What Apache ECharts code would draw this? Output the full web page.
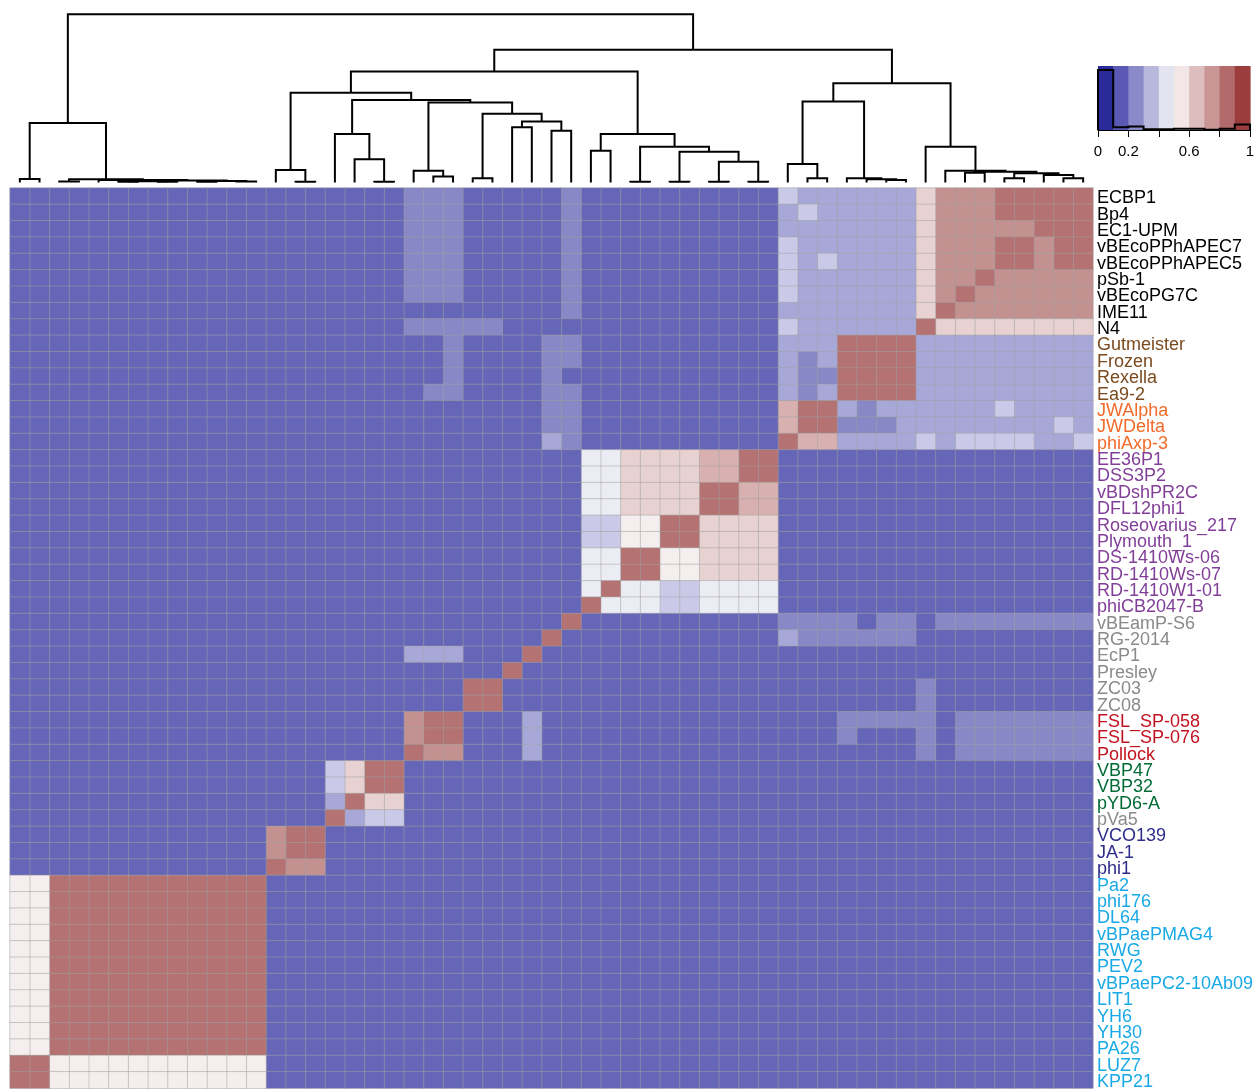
<!DOCTYPE html>
<html>
<head>
<meta charset="utf-8">
<script src="https://cdn.jsdelivr.net/npm/echarts@6/dist/echarts.min.js"></script>
<style>html,body{margin:0;padding:0;background:#fff;}#c{width:1259px;height:1091px;}</style>
</head>
<body>
<div id="c"></div>
<script>
// ---------------- DATA ----------------
// Row labels (top to bottom). Columns show the same phages in reverse order.
var labels = ["ECBP1","Bp4","EC1-UPM","vBEcoPPhAPEC7","vBEcoPPhAPEC5","pSb-1","vBEcoPG7C","IME11","N4",
  "Gutmeister","Frozen","Rexella","Ea9-2","JWAlpha","JWDelta","phiAxp-3",
  "EE36P1","DSS3P2","vBDshPR2C","DFL12phi1","Roseovarius_217","Plymouth_1","DS-1410Ws-06","RD-1410Ws-07","RD-1410W1-01","phiCB2047-B",
  "vBEamP-S6","RG-2014","EcP1","Presley","ZC03","ZC08",
  "FSL_SP-058","FSL_SP-076","Pollock","VBP47","VBP32","pYD6-A","pVa5","VCO139","JA-1","phi1",
  "Pa2","phi176","DL64","vBPaePMAG4","RWG","PEV2","vBPaePC2-10Ab09","LIT1","YH6","YH30","PA26","LUZ7","KPP21"];

// label group of each row (decides label colour)
var rowGroup = [0,0,0,0,0,0,0,0,0, 1,1,1,1, 2,2,2, 3,3,3,3,3,3,3,3,3,3, 4,4,4,4,4,4, 5,5,5, 6,6,6, 4, 7,7,7,
  8,8,8,8,8,8,8,8,8,8,8,8,8];

// Similarity, in tenths (digit d = value in [d/10, (d+1)/10)); row i, column j both in label order
var simRows = [
 "9999988862 2222230000 0000001000 0011100000 0000000000 00000",
 "9999988862 2222320000 0000001000 0011100000 0000000000 00000",
 "9998888862 2222220000 0000001000 0011100000 0000000000 00000",
 "9989988862 2222230000 0000001000 0011100000 0000000000 00000",
 "9989988862 2223230000 0000001000 0011100000 0000000000 00000",
 "8888898862 2222230000 0000001000 0011100000 0000000000 00000",
 "8888889862 2222230000 0000001000 0011100000 0000000000 00000",
 "8888888962 2222220000 0000001000 0000000000 0000000000 00000",
 "6666666692 2222230000 0000000000 1111100000 0000000000 00000",
 "2222222229 9992220000 0000001100 0010000000 0000000000 00000",
 "2222222229 9992120000 0000001100 0010000000 0000000000 00000",
 "2222222229 9991120000 0000000100 0010000000 0000000000 00000",
 "2222222229 9992120000 0000001100 0011000000 0000000000 00000",
 "2222322222 2129970000 0000001100 0000000000 0000000000 00000",
 "2322222222 1119970000 0000001100 0000000000 0000000000 00000",
 "3223333232 2227790000 0000001200 0000000000 0000000000 00000",
 "0000000000 0000009977 6666440000 0000000000 0000000000 00000",
 "0000000000 0000009977 6666440000 0000000000 0000000000 00000",
 "0000000000 0000007799 6666440000 0000000000 0000000000 00000",
 "0000000000 0000007799 6666440000 0000000000 0000000000 00000",
 "0000000000 0000006666 9955330000 0000000000 0000000000 00000",
 "0000000000 0000006666 9955330000 0000000000 0000000000 00000",
 "0000000000 0000006666 5599440000 0000000000 0000000000 00000",
 "0000000000 0000006666 5599440000 0000000000 0000000000 00000",
 "0000000000 0000004444 3344940000 0000000000 0000000000 00000",
 "0000000000 0000004444 3344490000 0000000000 0000000000 00000",
 "1111111101 1011110000 0000009000 0000000000 0000000000 00000",
 "0000000001 1111120000 0000000900 0000000000 0000000000 00000",
 "0000000000 0000000000 0000000090 0022200000 0000000000 00000",
 "0000000000 0000000000 0000000009 0000000000 0000000000 00000",
 "0000000010 0000000000 0000000000 9900000000 0000000000 00000",
 "0000000010 0000000000 0000000000 9900000000 0000000000 00000",
 "1111111011 1110000000 0000000020 0099800000 0000000000 00000",
 "1111111010 0010000000 0000000020 0099800000 0000000000 00000",
 "1111111010 0000000000 0000000020 0088900000 0000000000 00000",
 "0000000000 0000000000 0000000000 0000099630 0000000000 00000",
 "0000000000 0000000000 0000000000 0000099630 0000000000 00000",
 "0000000000 0000000000 0000000000 0000066920 0000000000 00000",
 "0000000000 0000000000 0000000000 0000033290 0000000000 00000",
 "0000000000 0000000000 0000000000 0000000009 9800000000 00000",
 "0000000000 0000000000 0000000000 0000000009 9800000000 00000",
 "0000000000 0000000000 0000000000 0000000008 8900000000 00000",
 "0000000000 0000000000 0000000000 0000000000 0099999999 99955",
 "0000000000 0000000000 0000000000 0000000000 0099999999 99955",
 "0000000000 0000000000 0000000000 0000000000 0099999999 99955",
 "0000000000 0000000000 0000000000 0000000000 0099999999 99955",
 "0000000000 0000000000 0000000000 0000000000 0099999999 99955",
 "0000000000 0000000000 0000000000 0000000000 0099999999 99955",
 "0000000000 0000000000 0000000000 0000000000 0099999999 99955",
 "0000000000 0000000000 0000000000 0000000000 0099999999 99955",
 "0000000000 0000000000 0000000000 0000000000 0099999999 99955",
 "0000000000 0000000000 0000000000 0000000000 0099999999 99955",
 "0000000000 0000000000 0000000000 0000000000 0099999999 99955",
 "0000000000 0000000000 0000000000 0000000000 0055555555 55599",
 "0000000000 0000000000 0000000000 0000000000 0055555555 55599"
];

// Column dendrogram, hclust style: negative = leaf at column position, positive = earlier merge
var dendroMerges = [
 [-1,-2,0.021],[-3,-4,0.006],[-6,-7,0.004],[-8,-9,0.005],[3,4,0.008],[-10,-11,0.004],[-12,-13,0.006],
 [6,7,0.009],[5,8,0.012],[-5,9,0.015],[2,10,0.020],[1,11,0.354],
 [-15,-16,0.005],[-14,13,0.074],[-19,-20,0.005],[-18,15,0.138],[-17,16,0.289],
 [-22,-23,0.035],[-21,18,0.070],[-24,-25,0.025],[-26,-27,0.329],[-28,-29,0.308],[21,22,0.362],
 [20,23,0.408],[19,24,0.475],[17,25,0.491],[14,26,0.534],
 [-30,-31,0.189],[-32,-33,0.005],[-34,-35,0.005],[-36,-37,0.005],[-38,-39,0.005],[31,32,0.124],
 [30,33,0.183],[29,34,0.213],[28,35,0.289],[27,36,0.660],
 [-41,-42,0.025],[-40,38,0.110],[-45,-46,0.015],[-44,40,0.020],[-43,41,0.025],[39,42,0.481],
 [-54,-55,0.025],[-53,44,0.045],[-51,-52,0.025],[46,45,0.055],[-49,-50,0.058],[48,47,0.064],
 [-48,49,0.070],[-47,50,0.213],[43,51,0.590],[37,52,0.789],[12,53,1.000]
];

var keyTicks = [0, 0.2, 0.4, 0.6, 0.8, 1];
var keyTickLabels = ["0", "0.2", "", "0.6", "", "1"];

// ---------------- STYLE ----------------
var keyColors = ['#2a2a9a','#5a5ab5','#8a8acb','#b8b8dc','#e4e4f0','#f3e6e6','#ddbdbd','#c99595','#b36a6a','#9c3d3d'];
var cellColors = ['#6666b8','#8888c6','#a8a8d8','#cacae8','#ececf5','#f5eeee','#e8d1d1','#d8b0b0','#c49191','#b47272'];
var groupColors = ['#000000','#7b4a1e','#f26b2a','#823f98','#8a8a8a','#c1121f','#006b35','#2e2e8a','#18a9e6'];
var FONT = 'Liberation Sans, Arial, sans-serif';

// ---------------- BUILD ----------------
var N = labels.length;
var colNames = labels.slice().reverse();
var matrix = simRows.map(function(s){ return s.replace(/ /g,'').split('').map(function(d){ return (+d + 0.5) / 10; }); });
var heatData = [];
var counts = [0,0,0,0,0,0,0,0,0,0];
for (var i = 0; i < N; i++) {
  for (var j = 0; j < N; j++) {
    var v = matrix[i][j];
    heatData.push([N - 1 - j, i, v]);
    counts[Math.min(9, Math.floor(v * 10))]++;
  }
}
var maxCount = Math.max.apply(null, counts);
var histMax = maxCount / 0.9375;

// dendrogram segments
var nodePos = [], nodeH = [], segs = [];
dendroMerges.forEach(function(m){
  function pos(id){ return id < 0 ? (-id - 0.5) : nodePos[id - 1]; }
  function ht(id){ return id < 0 ? 0 : nodeH[id - 1]; }
  var x1 = pos(m[0]), x2 = pos(m[1]);
  segs.push([x1, x2, ht(m[0]), ht(m[1]), m[2]]);
  nodePos.push((x1 + x2) / 2);
  nodeH.push(m[2]);
});

var pieces = cellColors.map(function(c, b){ return {gte: b/10, lt: (b+1)/10, color: c}; });
pieces[9].lte = 1; delete pieces[9].lt;

var rich = {};
groupColors.forEach(function(c, g){ rich['g' + g] = {color: c, fontSize: 18, fontFamily: FONT, padding: [4, 0, 0, 0]}; });

var keyBins = keyColors.map(function(c, b){ return [b/10, (b+1)/10, b]; });

var chart = echarts.init(document.getElementById('c'), null, {renderer: 'canvas'});
chart.setOption({
  animation: false,
  backgroundColor: '#ffffff',
  grid: [
    {left: 10, top: 188, width: 1083, height: 903},
    {left: 10, top: 14.3, width: 1083, height: 168.2},
    {left: 1098, top: 66, width: 152, height: 64}
  ],
  xAxis: [
    {type: 'category', gridIndex: 0, data: colNames, axisLine: {show: false}, axisTick: {show: false}, axisLabel: {show: false}, splitLine: {show: false}},
    {type: 'value', gridIndex: 1, min: 0, max: N, show: false},
    {type: 'value', gridIndex: 2, min: 0, max: 1, interval: 0.2,
      axisLine: {show: true, lineStyle: {color: '#000', width: 1}},
      axisTick: {show: true, length: 7, lineStyle: {color: '#000', width: 1}},
      splitLine: {show: false},
      axisLabel: {color: '#000', fontSize: 15, fontFamily: FONT, margin: 14,
        formatter: function(v){ var k = keyTicks.findIndex(function(t){ return Math.abs(t - v) < 1e-6; }); return k >= 0 ? keyTickLabels[k] : ''; }}}
  ],
  yAxis: [
    {type: 'category', gridIndex: 0, data: labels, inverse: true, position: 'right',
      axisLine: {show: false}, axisTick: {show: false}, splitLine: {show: false},
      axisLabel: {interval: 0, margin: 4, fontSize: 18, fontFamily: FONT,
        formatter: function(v, idx){ return '{g' + rowGroup[idx] + '|' + v + '}'; }, rich: rich}},
    {type: 'value', gridIndex: 1, min: 0, max: 1, show: false},
    {type: 'value', gridIndex: 2, min: 0, max: histMax, show: false}
  ],
  visualMap: {type: 'piecewise', show: false, dimension: 2, seriesIndex: 0, pieces: pieces},
  series: [
    {type: 'heatmap', xAxisIndex: 0, yAxisIndex: 0, data: heatData, progressive: 0,
      itemStyle: {borderColor: '#a0a0a0', borderWidth: 0.5}, emphasis: {disabled: true}},
    {type: 'custom', xAxisIndex: 1, yAxisIndex: 1, data: segs, clip: false,
      encode: {x: [0, 1], y: [2, 3, 4]},
      renderItem: function(params, api){
        var p1 = api.coord([api.value(0), api.value(2)]);
        var p2 = api.coord([api.value(0), api.value(4)]);
        var p3 = api.coord([api.value(1), api.value(4)]);
        var p4 = api.coord([api.value(1), api.value(3)]);
        return {type: 'polyline', shape: {points: [p1, p2, p3, p4]}, style: {stroke: '#000', lineWidth: 2, fill: 'none'}};
      }},
    {type: 'custom', xAxisIndex: 2, yAxisIndex: 2, data: keyBins,
      encode: {x: [0, 1]},
      renderItem: function(params, api){
        var a = api.coord([api.value(0), histMax]);
        var b = api.coord([api.value(1), 0]);
        return {type: 'rect', shape: {x: a[0], y: a[1], width: b[0] - a[0] + 0.6, height: b[1] - a[1]},
          style: {fill: keyColors[api.value(2)]}};
      }},
    {type: 'custom', xAxisIndex: 2, yAxisIndex: 2, data: [[0, 0]], z: 5,
      renderItem: function(params, api){
        var pts = [api.coord([0, 0])];
        for (var b = 0; b < 10; b++) {
          pts.push(api.coord([b/10, counts[b]]));
          pts.push(api.coord([(b+1)/10, counts[b]]));
        }
        pts.push(api.coord([1, 0]));
        return {type: 'polyline', shape: {points: pts}, style: {stroke: '#000', lineWidth: 2, fill: 'none'}};
      }}
  ]
});
</script>
</body>
</html>
